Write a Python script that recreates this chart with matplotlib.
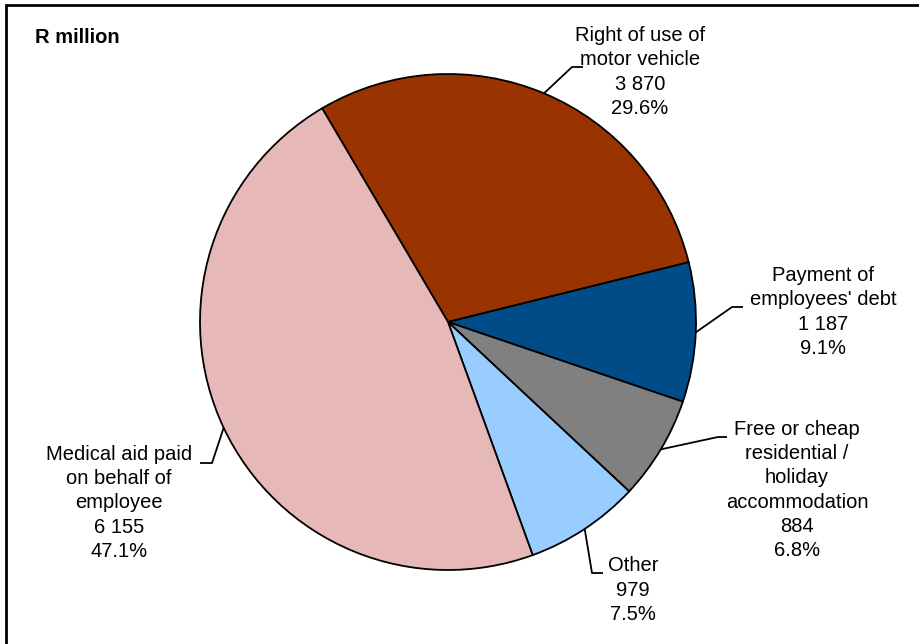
import numpy as np
import matplotlib
matplotlib.use("Agg")
import matplotlib.pyplot as plt
from matplotlib.patches import Rectangle

plt.rcParams['font.family'] = ['Liberation Sans', 'DejaVu Sans']

# data (R million)
names = ["Right of use of\nmotor vehicle", "Payment of\nemployees' debt",
         "Free or cheap\nresidential /\nholiday\naccommodation", "Other",
         "Medical aid paid\non behalf of\nemployee"]
values = [3870, 1187, 884, 979, 6155]
colors = ["#993300", "#004C88", "#808080", "#99CCFF", "#E6B8B7"]

# label placement (pixel coords, y down): text centre, elbow, end of leader
label_xy = [(640, 72), (823, 312), (797, 490), (633, 590), (119, 503)]
elbow = [(572, 67), (732, 307), (718, 437), (592, 573), (212, 463)]
tail = [(583, 67), (743, 307), (727, 437), (603, 573), (200, 463)]

W, H = 920, 644
fig = plt.figure(figsize=(W / 100, H / 100), dpi=100)
ax = fig.add_axes([0, 0, 1, 1])

cx, cy, r = 448, H - 322, 248
wedges, _ = ax.pie(values, colors=colors, startangle=120.5, counterclock=False,
                   center=(cx, cy), radius=r, frame=True,
                   wedgeprops=dict(edgecolor="black", linewidth=1.3))
ax.set_xlim(0, W)
ax.set_ylim(0, H)
ax.set_aspect("equal")
ax.axis("off")

total = sum(values)
for w, name, v, (tx, ty), (ex, ey), (sx, sy) in zip(wedges, names, values, label_xy, elbow, tail):
    mid = np.deg2rad((w.theta1 + w.theta2) / 2)
    px, py = cx + r * np.cos(mid), cy + r * np.sin(mid)
    ax.plot([px, ex, sx], [py, H - ey, H - sy], color="black", lw=1.3, solid_capstyle="butt")
    txt = f"{name}\n{v:,}".replace(",", " ") + f"\n{100 * v / total:.1f}%"
    ax.text(tx, H - ty, txt, ha="center", va="center", fontsize=14.5, linespacing=1.35)

ax.text(35, H - 37, "R million", fontsize=14.5, fontweight="bold", ha="left", va="center")

# chart border (clipped at right/bottom like the original)
fig.patches.append(Rectangle((6 / W, -0.1), 1.2, (H - 5) / H + 0.1, transform=fig.transFigure,
                             fill=False, edgecolor="black", lw=2))

fig.savefig("out.png", dpi=100)
